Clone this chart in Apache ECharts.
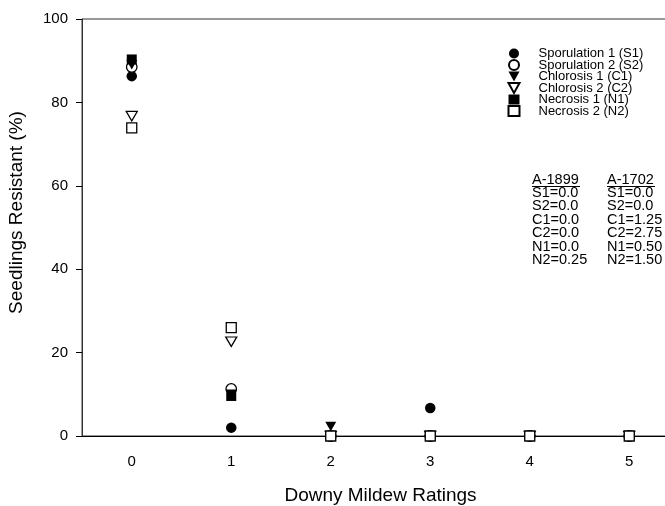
<!DOCTYPE html>
<html>
<head>
<meta charset="utf-8">
<script src="https://cdn.jsdelivr.net/npm/echarts@6/dist/echarts.min.js"></script>
<style>
  html, body { margin: 0; padding: 0; background: #fff; overflow: hidden; }
  #chart { width: 665px; height: 506px; }
</style>
</head>
<body>
<div id="chart"></div>
<script>
// Downy mildew ratings (x categories)
var ratings = ['0', '1', '2', '3', '4', '5'];

// % seedlings resistant per rating
var sporulation1 = [86.3, 2.0, 0, 6.7, 0, 0];
var sporulation2 = [88.5, 11.3, 0, 0, 0, 0];
var chlorosis1   = [89.0, 10.0, 2.3, 0, 0, 0];
var chlorosis2   = [76.7, 22.6, 0, 0, 0, 0];
var necrosis1    = [90.3, 9.6, 0, 0, 0, 0];
var necrosis2    = [73.9, 26.0, 0, 0, 0, 0];

var yTicks = [0, 20, 40, 60, 80, 100];

// mean ratings printed in the plot
var tableHeaders = ['A-1899', 'A-1702'];
var tableA1899 = ['S1=0.0', 'S2=0.0', 'C1=0.0', 'C2=0.0', 'N1=0.0', 'N2=0.25'];
var tableA1702 = ['S1=0.0', 'S2=0.0', 'C1=1.25', 'C2=2.75', 'N1=0.50', 'N2=1.50'];

var FONT = '"Liberation Sans", Arial, sans-serif';
var triDown = 'path://M0,0L10,0L5,9Z';

var chart = echarts.init(document.getElementById('chart'));

function makeSeries(name, data, symbol, size, filled) {
    return {
        name: name,
        type: 'scatter',
        data: data,
        symbol: symbol,
        symbolSize: size,
        clip: false,
        itemStyle: filled ? { color: '#000', opacity: 1 } :
            { color: '#fff', borderColor: '#000', borderWidth: 1.3, opacity: 1 }
    };
}

var graphics = [];
var colX = [532, 607];
var rowY0 = 172, rowStep = 13.4;
[tableA1899, tableA1702].forEach(function(col, c) {
    graphics.push({
        type: 'text', left: colX[c], top: rowY0,
        style: { text: tableHeaders[c], font: '14.5px ' + FONT, fill: '#000' }
    });
    graphics.push({
        type: 'line', shape: { x1: colX[c], y1: rowY0 + 14.5, x2: colX[c] + 48, y2: rowY0 + 14.5 },
        style: { stroke: '#000', lineWidth: 1 }
    });
    col.forEach(function(t, i) {
        graphics.push({
            type: 'text', left: colX[c], top: rowY0 + rowStep * (i + 1),
            style: { text: t, font: '14.5px ' + FONT, fill: '#000' }
        });
    });
});

var option = {
    animation: false,
    backgroundColor: '#fff',
    textStyle: { fontFamily: FONT },
    grid: {
        // plot frame runs on past the right edge of the picture
        left: 82, top: 19, right: -14, bottom: 70,
        outerBoundsMode: 'none',
        show: true, borderColor: '#333', borderWidth: 1
    },
    legend: {
        orient: 'vertical',
        left: 507.5, top: 47, padding: 0,
        itemWidth: 11, itemHeight: 10, itemGap: -1.5,
        textStyle: { fontSize: 13, color: '#000', padding: [0, 0, 0, 14] },
        data: ['Sporulation 1 (S1)', 'Sporulation 2 (S2)', 'Chlorosis 1 (C1)',
               'Chlorosis 2 (C2)', 'Necrosis 1 (N1)', 'Necrosis 2 (N2)']
    },
    xAxis: {
        type: 'category',
        data: ratings,
        boundaryGap: true,
        name: 'Downy Mildew Ratings',
        nameLocation: 'middle',
        nameGap: 50,
        nameTextStyle: { fontSize: 19, color: '#000' },
        axisLine: { lineStyle: { color: '#000', width: 1.2 } },
        axisTick: { alignWithLabel: true, length: 6, lineStyle: { color: '#000' } },
        axisLabel: { fontSize: 15, color: '#000', margin: 18 },
        splitLine: { show: false }
    },
    yAxis: {
        type: 'value',
        min: yTicks[0], max: yTicks[yTicks.length - 1], interval: 20,
        name: 'Seedlings Resistant (%)',
        nameLocation: 'middle',
        nameGap: 56,
        nameTextStyle: { fontSize: 19, color: '#000', padding: [0, 0, 0, 30] },
        axisLine: { show: true, lineStyle: { color: '#333', width: 1 } },
        axisTick: { show: true, length: 6, lineStyle: { color: '#000' } },
        axisLabel: { fontSize: 15, color: '#000', margin: 14 },
        splitLine: { show: false }
    },
    series: [
        makeSeries('Sporulation 1 (S1)', sporulation1, 'circle', 10.5, true),
        makeSeries('Sporulation 2 (S2)', sporulation2, 'circle', 10.5, false),
        makeSeries('Chlorosis 1 (C1)', chlorosis1, triDown, [11, 9.5], true),
        makeSeries('Chlorosis 2 (C2)', chlorosis2, triDown, [11, 9.5], false),
        makeSeries('Necrosis 1 (N1)', necrosis1, 'rect', 10, true),
        makeSeries('Necrosis 2 (N2)', necrosis2, 'rect', 10, false)
    ],
    graphic: graphics
};

chart.setOption(option);
</script>
</body>
</html>
